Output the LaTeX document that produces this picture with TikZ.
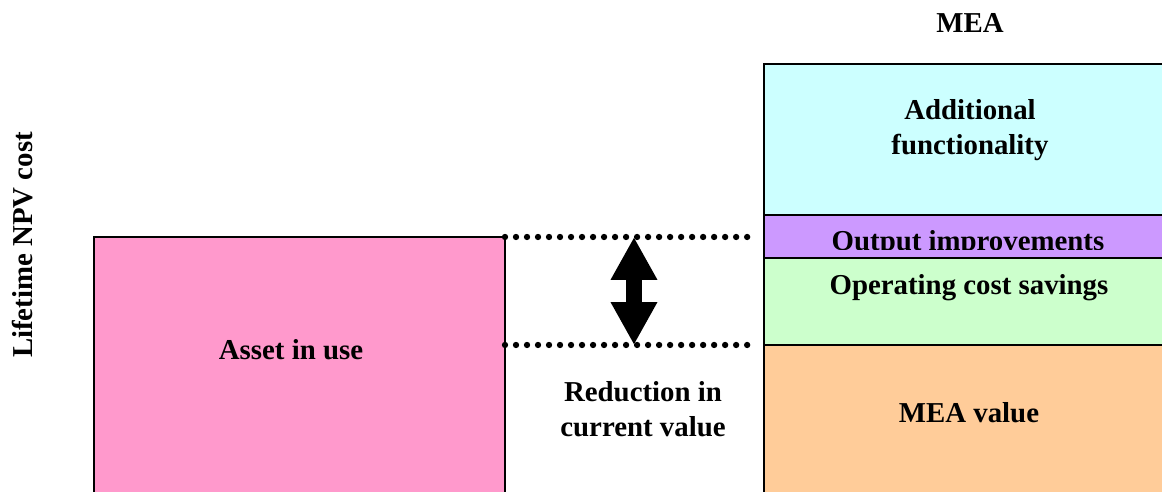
\documentclass[tikz,border=0pt]{standalone}
\usepackage{fontspec}
\setmainfont{Liberation Serif}
\usepackage{xcolor}
\usetikzlibrary{arrows.meta}

\definecolor{assetpink}{HTML}{FF99CC}
\definecolor{addcyan}{HTML}{CCFFFF}
\definecolor{outpurple}{HTML}{CC99FF}
\definecolor{opgreen}{HTML}{CCFFCC}
\definecolor{meaorange}{HTML}{FFCC99}

\tikzset{
  lbl/.style={font=\fontsize{8.2}{9.9}\selectfont\bfseries, inner sep=0pt, align=center},
  box/.style={draw=black, line width=0.6pt},
  level/.style={line width=1.8pt, line cap=round, dash pattern=on 0pt off 3.13pt}
}

\begin{document}
\begin{tikzpicture}[x=0.01cm,y=-0.01cm]
				\useasboundingbox (0,0) rectangle (1162,492);
				\begin{scope}
					\clip (0,0) rectangle (1162,492);
					\filldraw [box, fill=assetpink] (94,237) rectangle (505,530);
					\filldraw [box, fill=addcyan] (764,64) rectangle (1180,215);
					\filldraw [box, fill=outpurple] (764,215) rectangle (1180,258);
					\filldraw [box, fill=opgreen] (764,258) rectangle (1180,345);
					\filldraw [box, fill=meaorange] (764,345) rectangle (1180,530);
				\end{scope}
				% levels
				\coordinate (topL) at (505,237);
				\coordinate (topR) at (757,237);
				\coordinate (botL) at (505,345);
				\coordinate (botR) at (757,345);
				\coordinate (arrT) at (634,237);
				\coordinate (arrB) at (634,345);
				\draw [level] (topL) -- (topR);
				\draw [level] (botL) -- (botR);
				\draw [line width=4.4pt, {Triangle[length=12.2pt,width=12.4pt]}-{Triangle[length=12.2pt,width=12.4pt]}] (arrT) -- (arrB);
				% labels
				\node [lbl, anchor=base] (mea) at (970,33) {MEA};
				\node [lbl, anchor=base, rotate=90] (npv) at (33,245) {Lifetime NPV cost};
				\node [lbl, anchor=base] (asset) at (291,360) {Asset in use};
				\node [lbl] (reduction) at (643,409) {Reduction in\\current value};
				\node [lbl] (additional) at (970,130) {Additional\\functionality};
				\begin{scope}
					\clip (764,215) rectangle (1180,250);
					\node [lbl, anchor=base] (output) at (968,251) {Output improvements};
				\end{scope}
				\node [lbl, anchor=base] (operating) at (969,295) {Operating cost savings};
				\node [lbl, anchor=base] (meavalue) at (969,423) {MEA value};
\end{tikzpicture}
\end{document}
